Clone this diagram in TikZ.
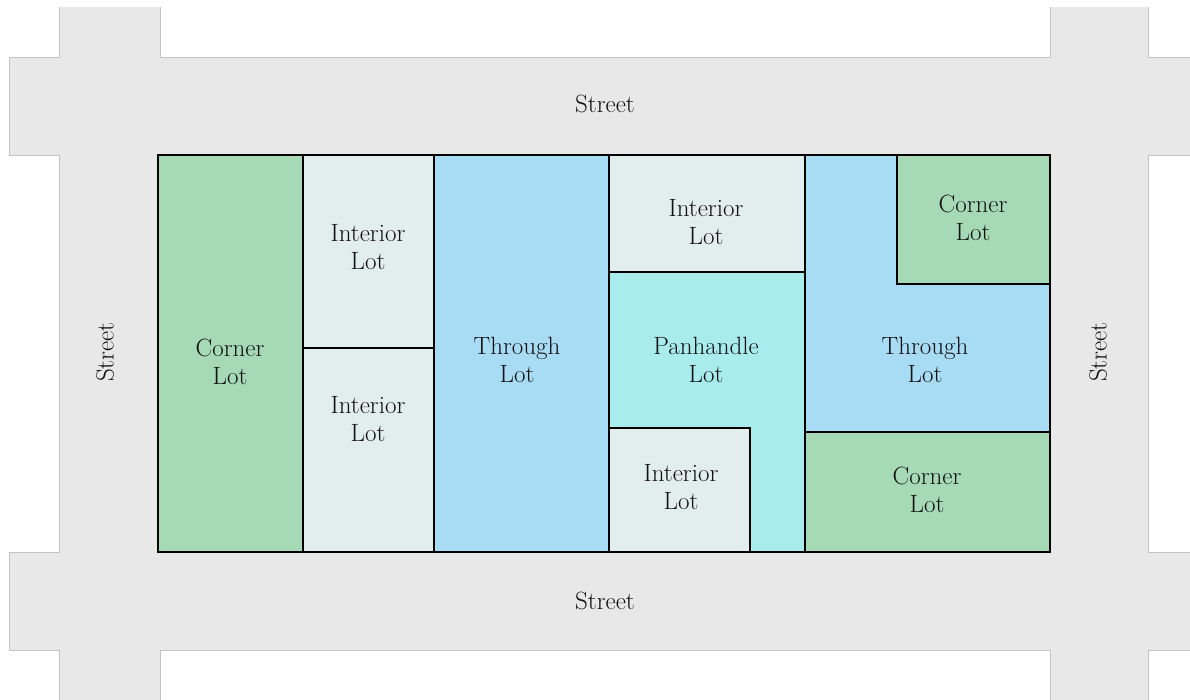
\documentclass[tikz,border=0pt]{standalone}
\begin{document}
\begin{tikzpicture}[x=1pt,y=-1pt,
  road/.style={fill=roadfill},
  roadedge/.style={draw=roadline,line width=0.8pt},
  lot/.style={draw=black,line width=2pt,line join=miter},
  lbl/.style={align=center,text=txt,font=\fontsize{25}{28}\selectfont,inner sep=0pt},
  slbl/.style={text=txt,font=\fontsize{25}{28}\selectfont,inner sep=0pt}]
\definecolor{roadfill}{HTML}{E8E8E8}
\definecolor{roadline}{HTML}{C4C4C4}
\definecolor{cornerc}{HTML}{A6DAB6}
\definecolor{interc}{HTML}{E2EDEE}
\definecolor{throughc}{HTML}{A8DCF5}
\definecolor{panc}{HTML}{A9ECEE}
\definecolor{txt}{HTML}{111111}
\useasboundingbox (0,0) rectangle (1190,700);
% streets
\fill[road] (9,57) rectangle (1190,155);
\fill[road] (9,552) rectangle (1190,650);
\fill[road] (59,7) rectangle (160,700);
\fill[road] (1050,7) rectangle (1148,700);
\fill[road] (158,155) rectangle (1050,552);
% street edges
\draw[roadedge] (9,57) -- (59,57) -- (59,7);
\draw[roadedge] (160,7) -- (160,57) -- (1050,57) -- (1050,7);
\draw[roadedge] (1148,7) -- (1148,57) -- (1190,57);
\draw[roadedge] (9,57) -- (9,155) -- (59,155) -- (59,552) -- (9,552) -- (9,650) -- (59,650) -- (59,700);
\draw[roadedge] (160,700) -- (160,650) -- (1050,650) -- (1050,700);
\draw[roadedge] (1148,700) -- (1148,650) -- (1190,650);
\draw[roadedge] (1190,155) -- (1148,155) -- (1148,552) -- (1190,552);
% lots
\filldraw[lot,fill=cornerc] (158,155) rectangle (303,552);
\filldraw[lot,fill=interc] (303,155) rectangle (434,348);
\filldraw[lot,fill=interc] (303,348) rectangle (434,552);
\filldraw[lot,fill=throughc] (434,155) rectangle (609,552);
\filldraw[lot,fill=interc] (609,155) rectangle (805,272);
\filldraw[lot,fill=panc] (609,272) -- (805,272) -- (805,552) -- (750,552) -- (750,428) -- (609,428) -- cycle;
\filldraw[lot,fill=interc] (609,428) rectangle (750,552);
\filldraw[lot,fill=throughc] (805,155) -- (897,155) -- (897,284) -- (1050,284) -- (1050,432) -- (805,432) -- cycle;
\filldraw[lot,fill=cornerc] (897,155) rectangle (1050,284);
\filldraw[lot,fill=cornerc] (805,432) rectangle (1050,552);
\draw[lot] (158,155) rectangle (1050,552);
% labels
\node[lbl] (c1) at (230,362) {Corner\\Lot};
\node[lbl] (i1) at (368,247) {Interior\\Lot};
\node[lbl] (i2) at (368,419) {Interior\\Lot};
\node[lbl] (t1) at (517,360) {Through\\Lot};
\node[lbl] (i3) at (706,222) {Interior\\Lot};
\node[lbl] (p1) at (706,360) {Panhandle\\Lot};
\node[lbl] (i4) at (681,487) {Interior\\Lot};
\node[lbl] (t2) at (925,360) {Through\\Lot};
\node[lbl] (c2) at (973,218) {Corner\\Lot};
\node[lbl] (c3) at (927,490) {Corner\\Lot};
\node[slbl] (s1) at (605,104) {Street};
\node[slbl] (s2) at (605,601) {Street};
\node[slbl,rotate=90] (s3) at (105,352) {Street};
\node[slbl,rotate=90] (s4) at (1098,352) {Street};
\end{tikzpicture}
\end{document}
